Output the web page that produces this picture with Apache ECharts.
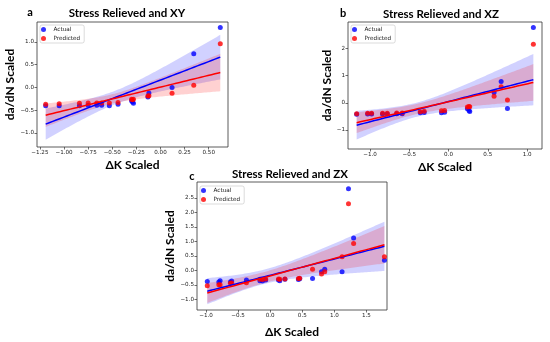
<!DOCTYPE html>
<html><head><meta charset="utf-8">
<script src="https://cdn.jsdelivr.net/npm/echarts@6/dist/echarts.min.js"></script>
<style>html,body{margin:0;padding:0;background:#fff}#c{width:550px;height:342px}</style>
</head><body><div id="c"></div>
<script>
// ---- Panel a: Stress Relieved and XY ----
const aX         = [-1.19, -1.05, -0.84, -0.75, -0.66, -0.61, -0.53, -0.44, -0.30, -0.29, -0.28, -0.13, -0.12, 0.12, 0.345, 0.62];
const aActual    = [-0.40, -0.40, -0.40, -0.39, -0.39, -0.39, -0.40, -0.37, -0.29, -0.32, -0.35, -0.21, -0.12, 0.00, 0.74, 1.32];
const aPredicted = [-0.37, -0.36, -0.35, -0.34, -0.34, -0.34, -0.34, -0.33, -0.26, -0.27, -0.26, -0.19, -0.18, -0.125, 0.05, 0.96];
const aXTicks = [-1.25, -1.0, -0.75, -0.5, -0.25, 0, 0.25, 0.5];
const aXTickLabels = ['−1.25', '−1.00', '−0.75', '−0.50', '−0.25', '0.00', '0.25', '0.50'];
const aYTicks = [-1.0, -0.5, 0, 0.5, 1.0];
const aYTickLabels = ['−1.0', '−0.5', '0.0', '0.5', '1.0'];

// ---- Panel b: Stress Relieved and XZ ----
const bX         = [-1.17, -1.03, -0.98, -0.84, -0.78, -0.66, -0.59, -0.36, -0.31, -0.09, -0.05, 0.24, 0.26, 0.27, 0.58, 0.67, 0.75, 1.08];
const bActual    = [-0.42, -0.41, -0.41, -0.41, -0.41, -0.40, -0.40, -0.37, -0.36, -0.37, -0.35, -0.22, -0.28, -0.32, 0.38, 0.78, -0.21, 2.77];
const bPredicted = [-0.40, -0.39, -0.39, -0.39, -0.39, -0.38, -0.38, -0.33, -0.31, -0.29, -0.28, -0.16, -0.14, -0.15, 0.24, 0.59, 0.10, 2.15];
const bXTicks = [-1.0, -0.5, 0, 0.5, 1.0];
const bXTickLabels = ['−1.0', '−0.5', '0.0', '0.5', '1.0'];
const bYTicks = [-1, 0, 1, 2];
const bYTickLabels = ['−1', '0', '1', '2'];

// ---- Panel c: Stress Relieved and ZX ----
const cX         = [-0.98, -0.80, -0.78, -0.62, -0.60, -0.37, -0.16, -0.12, -0.07, 0.13, 0.15, 0.23, 0.44, 0.46, 0.66, 0.80, 0.85, 1.12, 1.22, 1.30, 1.78];
const cActual    = [-0.39, -0.40, -0.36, -0.40, -0.37, -0.33, -0.36, -0.37, -0.33, -0.33, -0.36, -0.31, -0.32, -0.29, -0.28, -0.05, 0.04, -0.05, 2.82, 1.12, 0.35];
const cPredicted = [-0.53, -0.50, -0.50, -0.45, -0.44, -0.43, -0.31, -0.32, -0.30, -0.30, -0.31, -0.30, -0.28, -0.27, 0.04, -0.13, -0.05, 0.47, 2.30, 0.93, 0.47];
const cXTicks = [-1.0, -0.5, 0, 0.5, 1.0, 1.5];
const cXTickLabels = ['−1.0', '−0.5', '0.0', '0.5', '1.0', '1.5'];
const cYTicks = [-1.0, -0.5, 0, 0.5, 1.0, 1.5, 2.0, 2.5];
const cYTickLabels = ['−1.0', '−0.5', '0.0', '0.5', '1.0', '1.5', '2.0', '2.5'];

const seriesNames = ['Actual', 'Predicted'];
const panelTitles = ['Stress Relieved and XY', 'Stress Relieved and XZ', 'Stress Relieved and ZX'];
const panelLetters = ['a', 'b', 'c'];

// ---------- layout / style ----------
const BLUE = '#0000ff', RED = '#ff0000';
const panels = [
  {x: aX, ys: [aActual, aPredicted], xt: aXTicks, xl: aXTickLabels, yt: aYTicks, yl: aYTickLabels,
   grid: {left: 37, top: 22, width: 191, height: 125}, xr: [-1.28, 0.70], yr: [-1.31, 1.44],
   yGap: 17, xGap: 12, title: [127, 7], letter: [30, 7], legend: [40, 25]},
  {x: bX, ys: [bActual, bPredicted], xt: bXTicks, xl: bXTickLabels, yt: bYTicks, yl: bYTickLabels,
   grid: {left: 348, top: 22, width: 194, height: 127}, xr: [-1.28, 1.19], yr: [-1.70, 2.97],
   yGap: 10, xGap: 12, title: [441, 8], letter: [343, 8], legend: [351, 25]},
  {x: cX, ys: [cActual, cPredicted], xt: cXTicks, xl: cXTickLabels, yt: cYTicks, yl: cYTickLabels,
   grid: {left: 197, top: 182, width: 190, height: 128}, xr: [-1.14, 1.82], yr: [-1.37, 3.05],
   yGap: 11, xGap: 16, title: [290, 168], letter: [192, 171], legend: [200, 186]}
];

// OLS fit; 95% band from the average of the classical and the
// heteroskedasticity-robust (HC1) variance of the fitted mean
function regress(xs, ys) {
  const n = xs.length;
  let sx = 0, sxx = 0, sy = 0, sxy = 0;
  for (let i=0;i<n;i++){ sx += xs[i]; sxx += xs[i]*xs[i]; sy += ys[i]; sxy += xs[i]*ys[i]; }
  const det = n*sxx - sx*sx;
  const A = [[sxx/det, -sx/det], [-sx/det, n/det]];
  const b1 = (n*sxy - sx*sy)/det, b0 = (sy - b1*sx)/n;
  const M = [[0,0],[0,0]];
  let sse = 0;
  for (let i=0;i<n;i++){
    const e = ys[i] - b0 - b1*xs[i];
    const w = e*e*n/(n-2);
    sse += e*e;
    M[0][0] += w; M[0][1] += w*xs[i]; M[1][0] += w*xs[i]; M[1][1] += w*xs[i]*xs[i];
  }
  const s2 = sse/(n-2);
  const mul = (P, Q) => [[P[0][0]*Q[0][0]+P[0][1]*Q[1][0], P[0][0]*Q[0][1]+P[0][1]*Q[1][1]],
                         [P[1][0]*Q[0][0]+P[1][1]*Q[1][0], P[1][0]*Q[0][1]+P[1][1]*Q[1][1]]];
  const V = mul(mul(A, M), A);
  const lo = Math.min(...xs), hi = Math.max(...xs);
  const line = [], band = [];
  const N = 100, z = 2.1;
  for (let k=0;k<N;k++){
    const x = lo + (hi-lo)*k/(N-1);
    const yh = b0 + b1*x;
    const vr = V[0][0] + 2*x*V[0][1] + x*x*V[1][1];
    const vc = s2*(A[0][0] + 2*x*A[0][1] + x*x*A[1][1]);
    const se = Math.sqrt((vr + vc)/2);
    line.push([x, yh]);
    band.push([x, yh - z*se, yh + z*se]);
  }
  return {line, band};
}

const grids = [], xAxes = [], yAxes = [], series = [], titles = [], legends = [];
const colors = [BLUE, RED];
const bandColors = ['rgba(0,0,255,0.18)', 'rgba(255,0,0,0.18)'];
const labelFont = {fontFamily: 'DejaVu Sans', fontSize: 5.6, color: '#222'};
const nameFont = {fontFamily: 'Lato', fontWeight: 'bold', fontSize: 12, color: '#000'};

panels.forEach((p, gi) => {
  grids.push(Object.assign({show: true, borderColor: '#333', borderWidth: 0.8, backgroundColor: 'transparent'}, p.grid));
  const mkFmt = (ticks, labels) => (v) => { const i = ticks.findIndex(t => Math.abs(t - v) < 1e-9); return i >= 0 ? labels[i] : ''; };
  xAxes.push({type: 'value', gridIndex: gi, min: p.xr[0], max: p.xr[1],
    axisLine: {show: false, onZero: false}, splitLine: {show: false},
    axisTick: {show: true, length: 2.5, customValues: p.xt, lineStyle: {color: '#333', width: 0.7}},
    axisLabel: Object.assign({customValues: p.xt, margin: 3, formatter: mkFmt(p.xt, p.xl), showMinLabel: true, showMaxLabel: true}, labelFont),
    name: 'ΔK Scaled', nameLocation: 'middle', nameGap: p.xGap, nameTextStyle: nameFont});
  yAxes.push({type: 'value', gridIndex: gi, min: p.yr[0], max: p.yr[1],
    axisLine: {show: false, onZero: false}, splitLine: {show: false},
    axisTick: {show: true, length: 2.5, customValues: p.yt, lineStyle: {color: '#333', width: 0.7}},
    axisLabel: Object.assign({customValues: p.yt, margin: 3, formatter: mkFmt(p.yt, p.yl), showMinLabel: true, showMaxLabel: true}, labelFont),
    name: 'da/dN Scaled', nameLocation: 'middle', nameGap: p.yGap, nameTextStyle: nameFont});
  titles.push({text: panelTitles[gi], left: p.title[0], top: p.title[1], textAlign: 'center', padding: 0,
    textStyle: {fontFamily: 'Lato', fontWeight: 'bold', fontSize: 11.5, color: '#000'}});
  titles.push({text: panelLetters[gi], left: p.letter[0], top: p.letter[1], textAlign: 'center', padding: 0,
    textStyle: {fontFamily: 'Lato', fontWeight: 'bold', fontSize: 11, color: '#000'}});
  legends.push({data: seriesNames, orient: 'vertical', left: p.legend[0], top: p.legend[1],
    icon: 'circle', itemWidth: 12, itemHeight: 5, itemGap: 2, padding: [1, 4, 1, 1],
    borderColor: '#ccc', borderWidth: 0.7, borderRadius: 2, backgroundColor: 'rgba(255,255,255,0.8)',
    selectedMode: false,
    textStyle: {fontFamily: 'DejaVu Sans', fontSize: 5.7, color: '#222', lineHeight: 7, padding: [0,0,0,-1]}});

  p.ys.forEach((ys, si) => {
    const r = regress(p.x, ys);
    series.push({type: 'custom', name: seriesNames[si] + ' CI', xAxisIndex: gi, yAxisIndex: gi, z: 1, silent: true,
      data: r.band, encode: {x: 0, y: [1, 2]},
      renderItem: (params, api) => {
        if (params.dataIndex !== 0) return null;
        const pts = [];
        for (let i = 0; i < r.band.length; i++) pts.push(api.coord([r.band[i][0], r.band[i][2]]));
        for (let i = r.band.length - 1; i >= 0; i--) pts.push(api.coord([r.band[i][0], r.band[i][1]]));
        return {type: 'polygon', shape: {points: pts}, style: {fill: bandColors[si]}};
      }});
    series.push({type: 'scatter', name: seriesNames[si], xAxisIndex: gi, yAxisIndex: gi, z: 2,
      symbolSize: 5, itemStyle: {color: colors[si], opacity: 0.8},
      data: p.x.map((x, i) => [x, ys[i]])});
    series.push({type: 'line', name: seriesNames[si] + ' fit', xAxisIndex: gi, yAxisIndex: gi, z: 3,
      showSymbol: false, symbol: 'none', lineStyle: {color: colors[si], width: 1.5}, itemStyle: {color: colors[si]},
      data: r.line});
  });
});

const chart = echarts.init(document.getElementById('c'), null, {renderer: 'canvas'});
chart.setOption({animation: false, backgroundColor: '#fff', title: titles, legend: legends,
  grid: grids, xAxis: xAxes, yAxis: yAxes, series: series});
</script></body></html>
